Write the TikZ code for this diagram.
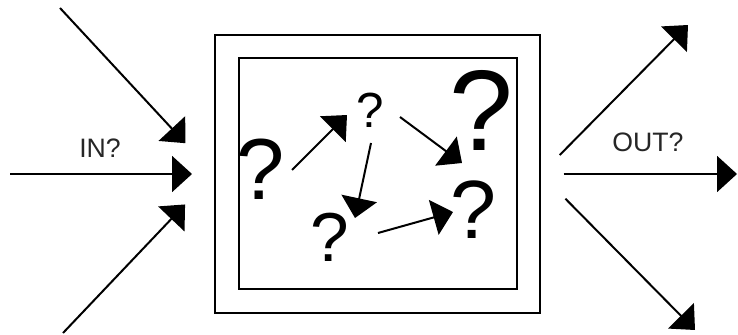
\documentclass[tikz,border=0pt]{standalone}
\usepackage{fontspec}
\setmainfont{Liberation Sans}
\usetikzlibrary{arrows.meta, positioning}

\begin{document}
\begin{tikzpicture}[x=0.75pt, y=-0.75pt,
    frame/.style={rectangle, draw=black, line width=1.5pt, inner sep=0pt},
    qmark/.style={inner sep=0pt, text=black},
    lbl/.style={inner sep=0pt, text=black!85, font=\fontsize{20}{24}\selectfont},
    arr/.style={-{Triangle[length=15pt, width=27pt]}, line width=1.5pt, black},
]
\useasboundingbox (0,0) rectangle (738,335);

\node[frame, minimum width=243.75pt, minimum height=208.5pt] (outer) at (377.5,174) {};
\node[frame, minimum width=208.5pt, minimum height=173.25pt] (inner) at (378,173.5) {};

% question marks inside
\node[qmark, font=\fontsize{65}{65}\selectfont] (qleft)  at (261,169) {?};
\node[qmark, font=\fontsize{37}{37}\selectfont] (qtop)   at (370,110) {?};
\node[qmark, font=\fontsize{86}{86}\selectfont] (qbig)   at (481,110) {?};
\node[qmark, font=\fontsize{52}{52}\selectfont] (qlow)   at (330,237) {?};
\node[qmark, font=\fontsize{62}{62}\selectfont] (qright) at (473,210) {?};

\draw[arr] ([shift={(31,1)}]qleft.center) -- ([shift={(-23,5)}]qtop.center);
\draw[arr] ([shift={(30,7)}]qtop.center)  -- ([shift={(-19,53)}]qbig.center);
\draw[arr] ([shift={(1,33)}]qtop.center)  -- ([shift={(25,-19)}]qlow.center);
\draw[arr] ([shift={(48,-4)}]qlow.center) -- ([shift={(-20,2)}]qright.center);

% in
\coordinate (inA) at (60,8);
\coordinate (inB) at (10,174);
\coordinate (inC) at (63,333);
\node[lbl] (inlbl) at (100,148) {IN?};

\draw[arr, shorten >=31.5pt] (inA) -- (outer.west);
\draw[arr, shorten >=16.5pt] (inB) -- (outer.west);
\draw[arr, shorten >=31.5pt] (inC) -- (outer.west);

% out
\coordinate (outA) at (688,25);
\coordinate (outB) at (737,174);
\coordinate (outC) at (695,330);
\node[lbl] (outlbl) at (648,142) {OUT?};

\draw[arr, shorten <=20pt] (outer.east) -- (outA);
\draw[arr, shorten <=17pt] (outer.east) -- (outB);
\draw[arr, shorten <=26pt] (outer.east) -- (outC);

\end{tikzpicture}
\end{document}
